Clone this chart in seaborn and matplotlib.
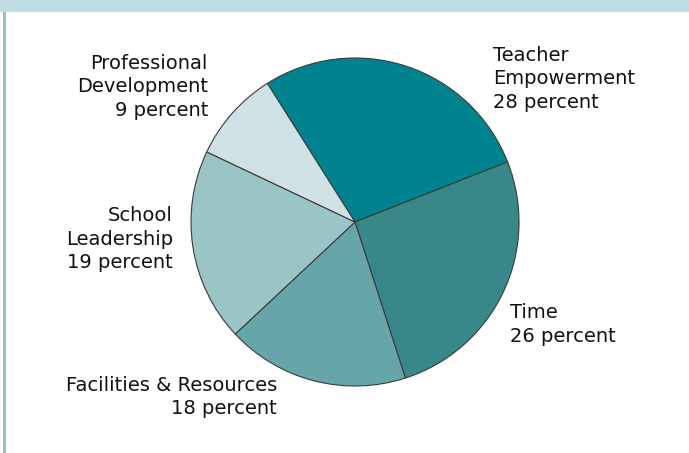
import matplotlib
matplotlib.use("Agg")
import matplotlib.pyplot as plt
import seaborn as sns
from matplotlib.patches import Rectangle

sns.set_theme(style="white")
plt.rcParams['font.family'] = ['DejaVu Sans']

categories = ["Teacher\nEmpowerment", "Time", "Facilities & Resources",
              "School\nLeadership", "Professional\nDevelopment"]
values = [28, 26, 18, 19, 9]
colors = ["#00828f", "#38888a", "#67a6a8", "#9bc4c6", "#cee1e4"]

W, H = 689, 453
CX, CY, R = 355, 222, 164

fig = plt.figure(figsize=(W / 100, H / 100), dpi=100)
fig.patch.set_facecolor("white")
ax = fig.add_axes([0, 0, 1, 1])

ax.pie(values, colors=colors, startangle=122.3, counterclock=False,
       wedgeprops=dict(edgecolor="#3a3a3a", linewidth=0.8))

ax.set_xlim(-CX / R, (W - CX) / R)
ax.set_ylim(-(H - CY) / R, CY / R)
ax.set_aspect("auto")
ax.axis("off")

def px(x, y):
    return (x - CX) / R, (CY - y) / R

# label anchors (pixel positions, top of text block)
label_pos = [(493, 46, "left"), (510, 303, "left"), (277, 376, "right"),
             (173, 206, "right"), (208, 54, "right")]
for cat, val, (x, y, ha) in zip(categories, values, label_pos):
    tx, ty = px(x, y)
    ax.text(tx, ty, f"{cat}\n{val} percent", ha=ha, va="top",
            multialignment=ha, fontsize=14, color="#111111",
            linespacing=1.3)

# decorative frame: top band and left stripe
fig.patches.append(Rectangle((0, 1 - 12 / H), 1, 12 / H, transform=fig.transFigure,
                             facecolor="#bfdde2", edgecolor="none", zorder=0))
fig.patches.append(Rectangle((3 / W, 0), 3 / W, 1 - 12 / H, transform=fig.transFigure,
                             facecolor="#8ec3c9", edgecolor="none", zorder=0))

fig.savefig("out.png", dpi=100, facecolor="white")
